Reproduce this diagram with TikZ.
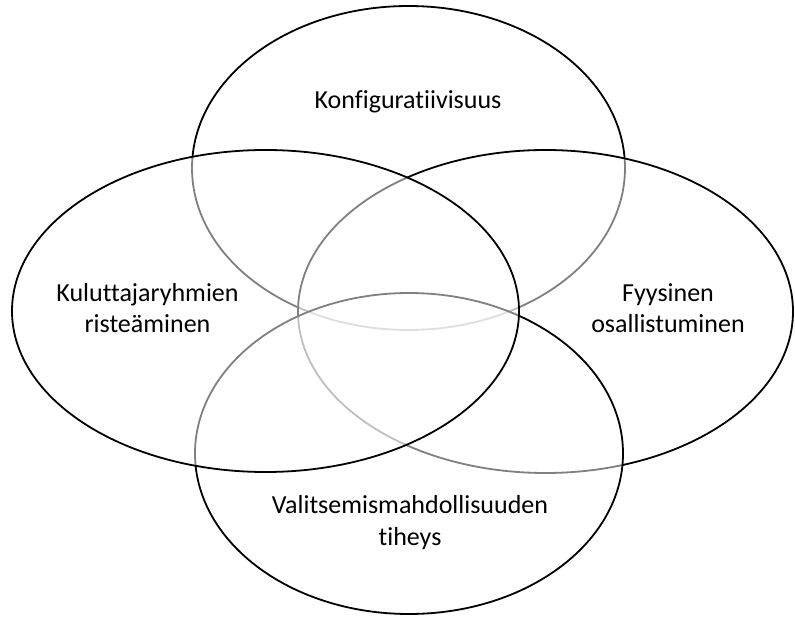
\documentclass[tikz,border=0pt]{standalone}
\usepackage{fontspec}
\setmainfont{Carlito}[Ligatures=NoCommon]
\begin{document}
\begin{tikzpicture}[x=1pt,y=-1pt,
  venn/.style={draw=black,line width=1.8pt,fill=white,fill opacity=0.5},
  lbl/.style={font=\fontsize{26}{31.5}\selectfont,align=center,text=black,inner sep=0pt,anchor=base}]
  \useasboundingbox (0,0) rectangle (795,617);
  % four overlapping sets; each translucent white fill softens the outlines beneath it
  \draw[venn] (408.5,168) ellipse [x radius=216.5, y radius=162];
  \draw[venn] (545.5,311.5) ellipse [x radius=247.5, y radius=161.5];
  \draw[venn] (409,453.5) ellipse [x radius=214, y radius=160.5];
  \draw[venn] (265.5,311) ellipse [x radius=253.5, y radius=161];
  % set labels (base anchor sits on the last line)
  \node[lbl] (konf) at (408,109) {Konfiguratiivisuus};
  \node[lbl] (kulu) at (147.5,333) {Kuluttajaryhmien\\risteäminen};
  \node[lbl] (fyys) at (668,333) {Fyysinen\\osallistuminen};
  \node[lbl] (vali) at (410,545) {Valitsemismahdollisuuden\\tiheys};
\end{tikzpicture}
\end{document}
